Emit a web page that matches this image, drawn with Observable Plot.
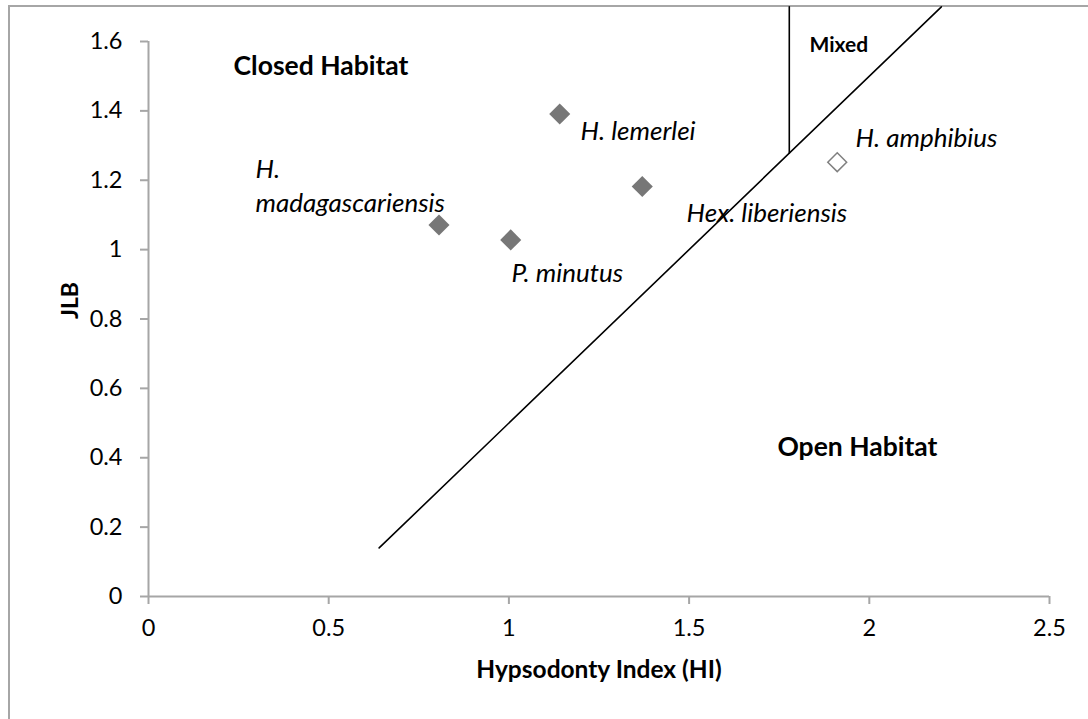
<!DOCTYPE html>
<html><head><meta charset="utf-8">
<script src="https://cdn.jsdelivr.net/npm/d3@7"></script>
<script src="https://cdn.jsdelivr.net/npm/@observablehq/plot@0.6"></script>
<style>
body{margin:0;background:#fff;overflow:hidden;width:1088px;height:719px;}
#frame{position:absolute;left:8px;top:5px;width:1200px;height:800px;border-left:2px solid #a6a6a6;border-top:2px solid #a6a6a6;}
#chart{position:absolute;left:0;top:0;}
</style></head><body>
<div id="frame"></div><div id="chart"></div>
<script>
// species points
const species = ["H. madagascariensis", "P. minutus", "H. lemerlei", "Hex. liberiensis", "H. amphibius"];
const hi = [0.806, 1.005, 1.141, 1.370, 1.911];
const jlb = [1.071, 1.028, 1.391, 1.182, 1.252];
const filled = [true, true, true, true, false];
// species labels (annotation anchors in data units)
const labelText = ["H.\nmadagascariensis", "P. minutus", "H. lemerlei", "Hex. liberiensis", "H. amphibius"];
const labelX = [0.297, 1.007, 1.199, 1.493, 1.962];
const labelY = [1.108, 0.906, 1.315, 1.079, 1.295];
// habitat regions
const regionNames = ["Closed Habitat", "Open Habitat"];
const regionX = [0.236, 1.745];
const regionY = [1.502, 0.406];
const mixedName = ["Mixed"];
const mixedX = [1.834];
const mixedY = [1.571];
// boundary lines
const boundaryX = [0.64, 2.2];
const boundaryY = [0.14, 1.7];
const mixedLineX = [1.778, 1.778];
const mixedLineY = [1.278, 1.7];
// ticks
const xTicks = [0, 0.5, 1, 1.5, 2, 2.5];
const yTicks = [0, 0.2, 0.4, 0.6, 0.8, 1, 1.2, 1.4, 1.6];
const xTitle = "Hypsodonty Index (HI)";
const yTitle = "JLB";

const pts = species.map((s, i) => ({s, x: hi[i], y: jlb[i], filled: filled[i]}));
const labels = labelText.map((t, i) => ({t, x: labelX[i], y: labelY[i]}));
const regions = regionNames.map((t, i) => ({t, x: regionX[i], y: regionY[i]}));
const mixed = mixedName.map((t, i) => ({t, x: mixedX[i], y: mixedY[i]}));
const boundary = boundaryX.map((x, i) => ({x, y: boundaryY[i]}));
const mixedLine = mixedLineX.map((x, i) => ({x, y: mixedLineY[i]}));

const axisGray = "#a6a6a6";
const chart = Plot.plot({
  width: 1088, height: 719,
  marginLeft: 148, marginRight: 39, marginTop: 41, marginBottom: 123,
  x: {domain: [0, 2.5]},
  y: {domain: [0, 1.6]},
  style: {fontFamily: "Lato", fontSize: "23px", background: "transparent", color: "black"},
  marks: [
    Plot.ruleY([0], {stroke: axisGray, strokeWidth: 2}),
    Plot.ruleX([0], {stroke: axisGray, strokeWidth: 2}),
    Plot.axisX(xTicks, {tickSize: 8, tickPadding: 15, stroke: axisGray, strokeWidth: 2, fill: "black", fontSize: 23.5, label: null, tickFormat: d => String(d)}),
    Plot.axisY(yTicks, {tickSize: 8, tickPadding: 18, stroke: axisGray, strokeWidth: 2, fill: "black", fontSize: 23.5, label: null, tickFormat: d => String(d)}),
    Plot.line(boundary, {x: "x", y: "y", stroke: "black", strokeWidth: 1.6}),
    Plot.line(mixedLine, {x: "x", y: "y", stroke: "black", strokeWidth: 1.6}),
    Plot.dot(pts.filter(d => d.filled), {x: "x", y: "y", symbol: "diamond2", r: 9.5, fill: "#777777", stroke: "none"}),
    Plot.dot(pts.filter(d => !d.filled), {x: "x", y: "y", symbol: "diamond2", r: 8.5, fill: "white", stroke: "#808080", strokeWidth: 1.5}),
    Plot.text(labels, {x: "x", y: "y", text: "t", fontStyle: "italic", fontSize: 26, textAnchor: "start", lineAnchor: "bottom", lineHeight: 1.3, fill: "black"}),
    Plot.text(regions, {x: "x", y: "y", text: "t", fontWeight: "bold", fontSize: 26.5, textAnchor: "start", lineAnchor: "bottom", fill: "black"}),
    Plot.text(mixed, {x: "x", y: "y", text: "t", fontWeight: "bold", fontSize: 21, textAnchor: "start", lineAnchor: "bottom", fill: "black"}),
    Plot.text([xTitle], {frameAnchor: "bottom", text: d => d, fontWeight: "bold", fontSize: 24.5, lineAnchor: "bottom", dy: 81, fill: "black"}),
    Plot.text([yTitle], {frameAnchor: "left", text: d => d, fontWeight: "bold", fontSize: 23, lineAnchor: "bottom", rotate: -90, dx: -70.5, fill: "black"})
  ]
});
document.getElementById("chart").append(chart);
</script>
</body></html>
